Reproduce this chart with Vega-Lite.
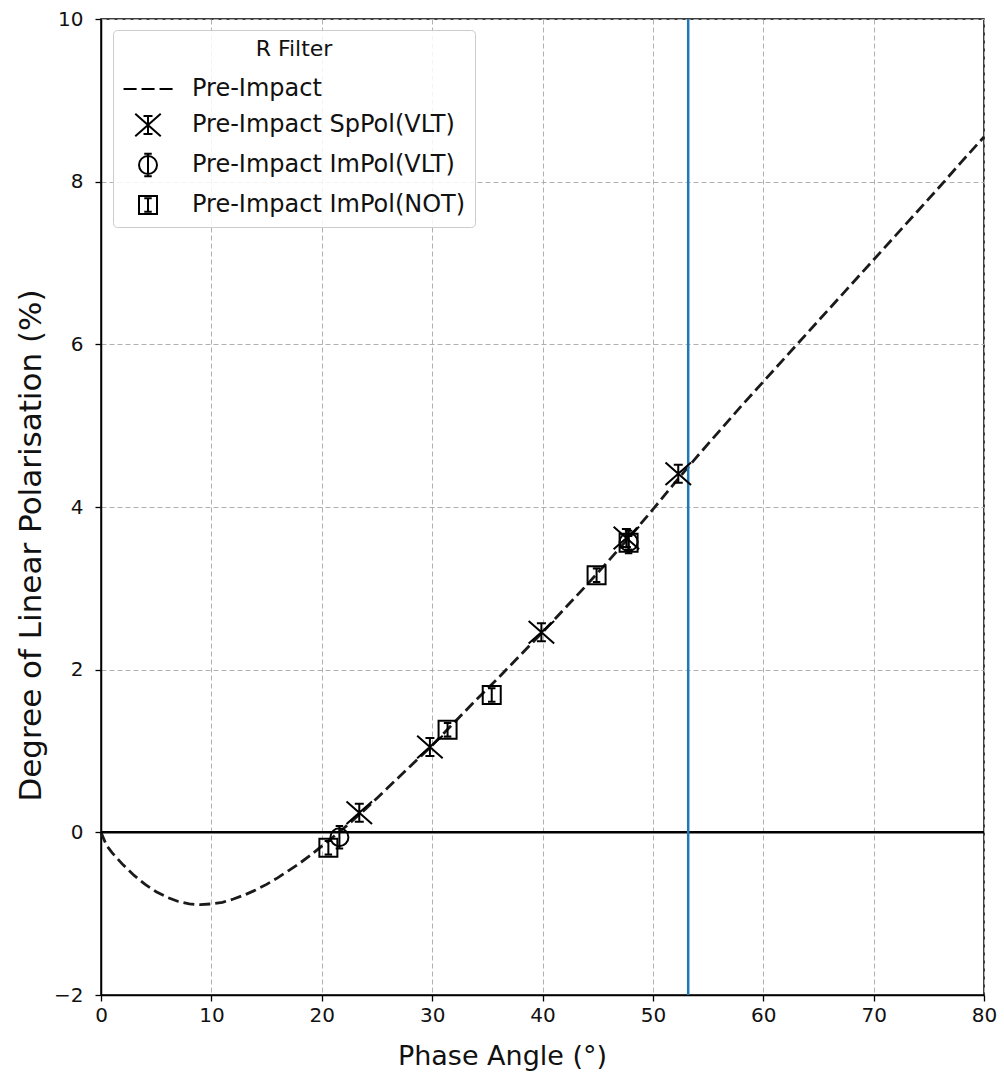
{
  "$schema": "https://vega.github.io/schema/vega-lite/v6.json",
  "width": 883,
  "height": 976,
  "autosize": {"type": "none"},
  "padding": {"left": 101, "top": 19, "right": 20, "bottom": 94},
  "background": "white",
  "config": {
    "font": "DejaVu Sans",
    "view": {"stroke": "black", "strokeWidth": 1.5},
    "axis": {
      "grid": true,
      "gridColor": "#b0b0b0",
      "gridDash": [5, 3],
      "gridWidth": 1,
      "domainColor": "black",
      "domainWidth": 1.5,
      "tickColor": "black",
      "tickSize": 6,
      "tickWidth": 1.3,
      "labelFontSize": 20,
      "labelColor": "#111111",
      "labelFlush": false,
      "labelOverlap": false,
      "titleFontWeight": "normal",
      "titleColor": "#111111",
      "labelPadding": 4
    }
  },
  "datasets": {
    "curve": [
      {"phase": 0, "pol": 0}, {"phase": 0.5, "pol": -0.16}, {"phase": 1, "pol": -0.25},
      {"phase": 2, "pol": -0.4}, {"phase": 3, "pol": -0.53}, {"phase": 4, "pol": -0.64},
      {"phase": 5, "pol": -0.73}, {"phase": 6, "pol": -0.8}, {"phase": 7, "pol": -0.85},
      {"phase": 8, "pol": -0.88}, {"phase": 9, "pol": -0.89}, {"phase": 10, "pol": -0.88},
      {"phase": 11, "pol": -0.86}, {"phase": 12, "pol": -0.82}, {"phase": 13, "pol": -0.77},
      {"phase": 14, "pol": -0.71}, {"phase": 15, "pol": -0.64}, {"phase": 16, "pol": -0.56},
      {"phase": 17, "pol": -0.47}, {"phase": 18, "pol": -0.38}, {"phase": 19, "pol": -0.28},
      {"phase": 20, "pol": -0.17}, {"phase": 21, "pol": -0.06}, {"phase": 22, "pol": 0.05},
      {"phase": 23, "pol": 0.17}, {"phase": 24, "pol": 0.29}, {"phase": 25, "pol": 0.42},
      {"phase": 26, "pol": 0.55}, {"phase": 27, "pol": 0.68}, {"phase": 28, "pol": 0.81},
      {"phase": 29, "pol": 0.94}, {"phase": 30, "pol": 1.07}, {"phase": 32, "pol": 1.35},
      {"phase": 34, "pol": 1.63}, {"phase": 36, "pol": 1.9}, {"phase": 38, "pol": 2.18},
      {"phase": 40, "pol": 2.46}, {"phase": 42, "pol": 2.75}, {"phase": 44, "pol": 3.04},
      {"phase": 46, "pol": 3.34}, {"phase": 48, "pol": 3.65}, {"phase": 50, "pol": 3.97},
      {"phase": 52, "pol": 4.3}, {"phase": 54, "pol": 4.62}, {"phase": 56, "pol": 4.93},
      {"phase": 58, "pol": 5.24}, {"phase": 60, "pol": 5.54}, {"phase": 62, "pol": 5.84},
      {"phase": 64, "pol": 6.14}, {"phase": 66, "pol": 6.44}, {"phase": 68, "pol": 6.74},
      {"phase": 70, "pol": 7.04}, {"phase": 72, "pol": 7.34}, {"phase": 74, "pol": 7.64},
      {"phase": 76, "pol": 7.94}, {"phase": 78, "pol": 8.25}, {"phase": 80, "pol": 8.55}
    ],
    "obs": [
      {"phase": 23.4, "pol": 0.24, "series": "Pre-Impact SpPol(VLT)"},
      {"phase": 29.8, "pol": 1.05, "series": "Pre-Impact SpPol(VLT)"},
      {"phase": 39.9, "pol": 2.46, "series": "Pre-Impact SpPol(VLT)"},
      {"phase": 47.6, "pol": 3.62, "series": "Pre-Impact SpPol(VLT)"},
      {"phase": 52.3, "pol": 4.41, "series": "Pre-Impact SpPol(VLT)"},
      {"phase": 21.6, "pol": -0.06, "series": "Pre-Impact ImPol(VLT)"},
      {"phase": 47.8, "pol": 3.57, "series": "Pre-Impact ImPol(VLT)"},
      {"phase": 20.6, "pol": -0.19, "series": "Pre-Impact ImPol(NOT)"},
      {"phase": 31.4, "pol": 1.26, "series": "Pre-Impact ImPol(NOT)"},
      {"phase": 35.4, "pol": 1.69, "series": "Pre-Impact ImPol(NOT)"},
      {"phase": 44.9, "pol": 3.16, "series": "Pre-Impact ImPol(NOT)"},
      {"phase": 47.8, "pol": 3.56, "series": "Pre-Impact ImPol(NOT)"}
    ],
    "zero": [{"pol": 0}],
    "impact": [{"phase": 53.2}]
  },
  "layer": [
    {
      "data": {"name": "curve"},
      "mark": {"type": "line", "color": "#1a1a1a", "strokeWidth": 2.8, "strokeDash": [11, 5]},
      "encoding": {
        "x": {
          "field": "phase", "type": "quantitative",
          "scale": {"domain": [0, 80], "nice": false, "zero": false},
          "axis": {"values": [0, 10, 20, 30, 40, 50, 60, 70, 80], "format": "d", "title": "Phase Angle (°)", "titleFontSize": 27, "titlePadding": 18, "titleX": 401, "titleAlign": "center"}
        },
        "y": {
          "field": "pol", "type": "quantitative",
          "scale": {"domain": [-2, 10], "nice": false, "zero": false},
          "axis": {"values": [-2, 0, 2, 4, 6, 8, 10], "format": "d", "labelPadding": 12, "title": "Degree of Linear Polarisation (%)", "titleFontSize": 31, "titlePadding": 6, "titleY": 526, "titleAlign": "center"}
        }
      }
    },
    {
      "data": {"name": "zero"},
      "mark": {"type": "rule", "color": "black", "strokeWidth": 2.5},
      "encoding": {"y": {"field": "pol", "type": "quantitative"}}
    },
    {
      "data": {"name": "impact"},
      "mark": {"type": "rule", "color": "#1f77b4", "strokeWidth": 2.5},
      "encoding": {"x": {"field": "phase", "type": "quantitative"}}
    },
    {
      "data": {"name": "obs"},
      "mark": {"type": "point", "filled": false, "stroke": "black", "strokeWidth": 2, "size": 900, "opacity": 1},
      "encoding": {
        "x": {"field": "phase", "type": "quantitative"},
        "y": {"field": "pol", "type": "quantitative"},
        "shape": {
          "field": "series", "type": "nominal",
          "scale": {
            "domain": ["Pre-Impact", "Pre-Impact SpPol(VLT)", "Pre-Impact ImPol(VLT)", "Pre-Impact ImPol(NOT)"],
            "range": [
              "M-1.63,0H-0.76M-0.43,0H0.44M0.77,0H1.64",
              "M-0.85,-0.75L0.85,0.75M-0.85,0.75L0.85,-0.75M0,-0.6V0.6M-0.3,-0.6H0.3M-0.3,0.6H0.3",
              "M0.6,0A0.6,0.6,0,1,1,-0.6,0A0.6,0.6,0,1,1,0.6,0ZM0,-0.75V0.75M-0.25,-0.75H0.25M-0.25,0.75H0.25",
              "M-0.6,-0.6H0.6V0.6H-0.6ZM0,-0.45V0.45M-0.25,-0.45H0.25M-0.25,0.45H0.25"
            ]
          },
          "legend": {
            "title": "R Filter",
            "orient": "none",
            "legendX": 12,
            "legendY": 11,
            "padding": 9,
            "fillColor": "rgba(255,255,255,0.85)",
            "strokeColor": "#cccccc",
            "cornerRadius": 4,
            "titleAnchor": "middle",
            "titleFontSize": 22,
            "titleFontWeight": "normal",
            "titleColor": "#111111",
            "titlePadding": 12,
            "labelFontSize": 24,
            "labelColor": "#111111",
            "labelLimit": 400,
            "labelOffset": 28,
            "symbolSize": 900,
            "symbolStrokeWidth": 2,
            "symbolStrokeColor": "black",
            "symbolFillColor": "transparent",
            "symbolOffset": 10,
            "rowPadding": 8
          }
        }
      }
    }
  ]
}
